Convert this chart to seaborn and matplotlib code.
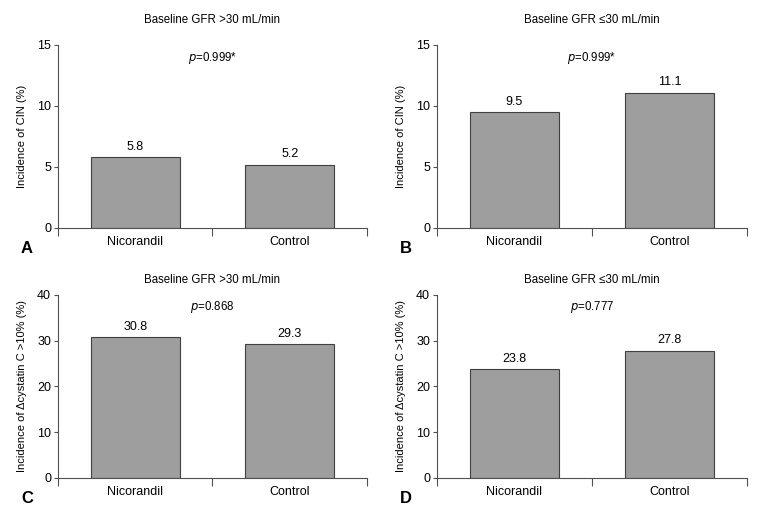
import matplotlib
matplotlib.use("Agg")
import matplotlib.pyplot as plt
import seaborn as sns
import pandas as pd

# Data
groups = ["Nicorandil", "Control"]
cin_high_gfr = [5.8, 5.2]
cin_low_gfr = [9.5, 11.1]
cys_high_gfr = [30.8, 29.3]
cys_low_gfr = [23.8, 27.8]

titles = ["Baseline GFR >30 mL/min", "Baseline GFR \u226430 mL/min",
          "Baseline GFR >30 mL/min", "Baseline GFR \u226430 mL/min"]
pvalues = ["=0.999*", "=0.999*", "=0.868", "=0.777"]
ylabels = ["Incidence of CIN (%)", "Incidence of CIN (%)",
           "Incidence of \u0394cystatin C >10% (%)", "Incidence of \u0394cystatin C >10% (%)"]
ymaxes = [15, 15, 40, 40]
yticks = [[0, 5, 10, 15], [0, 5, 10, 15], [0, 10, 20, 30, 40], [0, 10, 20, 30, 40]]
letters = ["A", "B", "C", "D"]

sns.set_style("white")
plt.rcParams["font.family"] = ["Liberation Sans", "DejaVu Sans"]
plt.rcParams["text.color"] = "black"
plt.rcParams["axes.labelcolor"] = "black"
plt.rcParams["xtick.color"] = "black"
plt.rcParams["ytick.color"] = "black"

BAR_COLOR = "#9e9e9e"
EDGE = "#404040"
AXIS = "#505050"
FS = 8

fig = plt.figure(figsize=(7.65, 5.19), dpi=100)
positions = [
    [0.0758, 0.5607, 0.4039, 0.3526],
    [0.5712, 0.5607, 0.4052, 0.3526],
    [0.0758, 0.0790, 0.4039, 0.3526],
    [0.5712, 0.0790, 0.4052, 0.3526],
]
title_y = [1.137, 1.137, 1.082, 1.082]
p_y = [0.928, 0.928, 0.933, 0.933]
all_values = [cin_high_gfr, cin_low_gfr, cys_high_gfr, cys_low_gfr]

for i, vals in enumerate(all_values):
    ax = fig.add_axes(positions[i])
    df = pd.DataFrame({"group": groups, "value": vals})
    sns.barplot(data=df, x="group", y="value", ax=ax, color=BAR_COLOR,
                width=0.575, edgecolor=EDGE, linewidth=0.8, saturation=1)
    ax.set_xlim(-0.5, 1.5)
    ax.set_ylim(0, ymaxes[i])
    ax.set_yticks(yticks[i])
    ax.set_xlabel("")
    ax.set_ylabel(ylabels[i], fontsize=FS)
    ax.yaxis.set_label_coords(-0.10, 0.5)
    for s in ["top", "right"]:
        ax.spines[s].set_visible(False)
    for s in ["left", "bottom"]:
        ax.spines[s].set_color(AXIS)
        ax.spines[s].set_linewidth(0.8)
    # ticks: y to the left, x only at category boundaries
    ax.tick_params(axis="y", direction="out", length=3, width=0.8, color=AXIS,
                   labelsize=FS + 1, pad=2, left=True)
    ax.set_xticks([0, 1])
    ax.set_xticklabels(groups, fontsize=FS + 1)
    ax.tick_params(axis="x", length=0, pad=6)
    ax.set_xticks([-0.5, 0.5, 1.5], minor=True)
    ax.tick_params(axis="x", which="minor", direction="out", length=6,
                   width=0.8, color=AXIS, bottom=True)
    # value labels above the bars
    for j, v in enumerate(vals):
        ax.annotate(f"{v:.1f}", (j, v), xytext=(0, 7.5), textcoords="offset points",
                    ha="center", va="center", fontsize=FS + 1)
    ax.text(0.5, title_y[i], titles[i], transform=ax.transAxes, ha="center",
            va="center", fontsize=FS + 0.3)
    ax.text(0.5, p_y[i], r"$\it{p}$" + pvalues[i], transform=ax.transAxes,
            ha="center", va="center", fontsize=FS + 0.3)
    ax.text(-0.12, -0.11, letters[i], transform=ax.transAxes, ha="left",
            va="center", fontsize=12, fontweight="bold")

fig.savefig("out.png", dpi=100)
